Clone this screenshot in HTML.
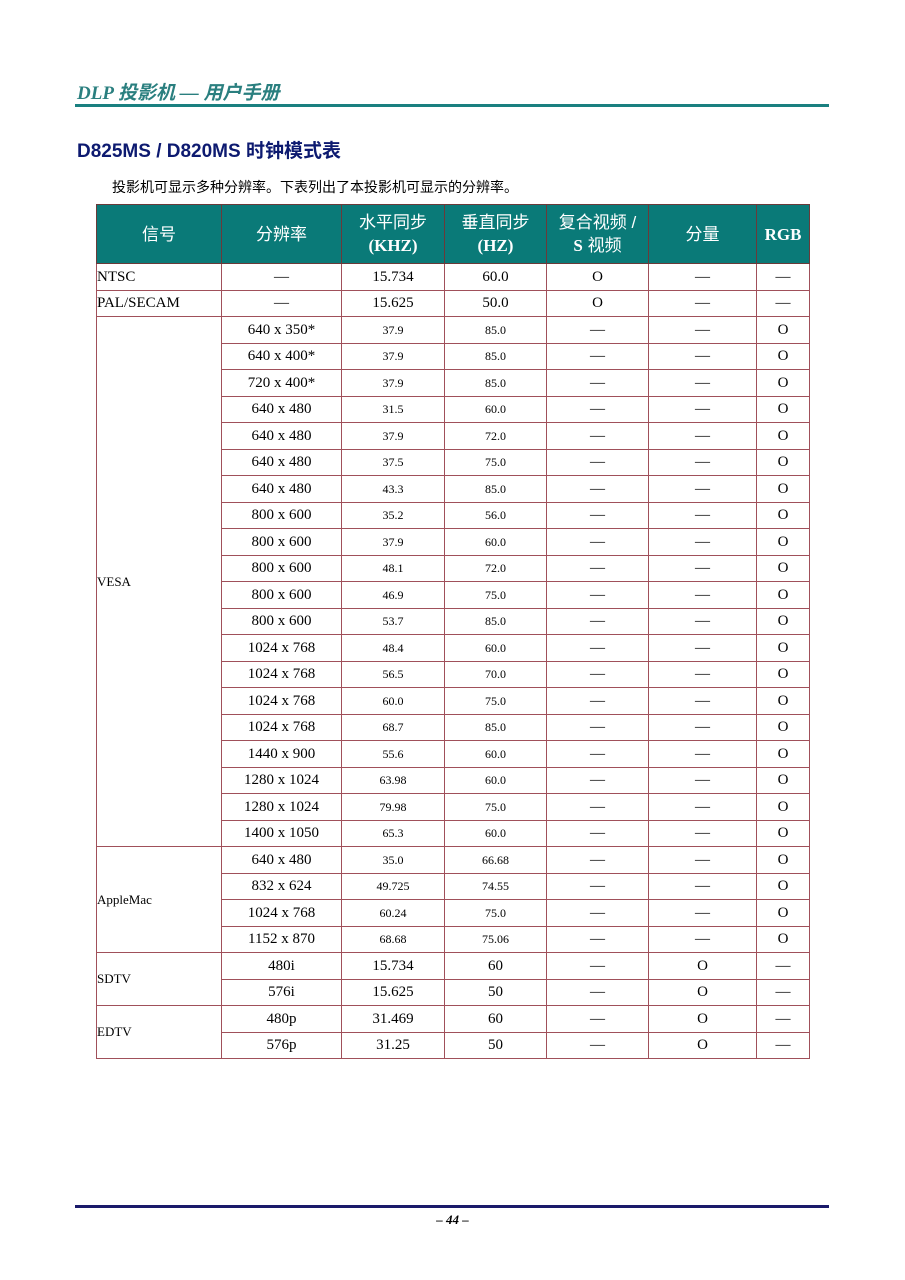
<!DOCTYPE html>
<html><head><meta charset="utf-8"><style>
body{margin:0;width:905px;height:1280px;background:#fff;position:relative;font-family:"Liberation Serif","Noto Serif CJK SC",serif;}
.hdr{position:absolute;left:77px;top:78px;font:italic bold 19px "Liberation Serif","Noto Sans CJK SC",serif;color:#2a7f7f;}
.hl{position:absolute;left:75px;top:104px;width:754px;height:3px;background:#1a8080;}
.title{position:absolute;left:77px;top:136px;font:bold 19px "Liberation Sans","Noto Sans CJK SC",sans-serif;color:#0d1a70;}
.intro{position:absolute;left:112px;top:177px;font:14px "Liberation Sans","Noto Sans CJK SC",sans-serif;color:#000;}
table{position:absolute;left:96px;top:204px;border-collapse:collapse;table-layout:fixed;width:713px;}
td{border:1px solid #a0505a;height:25.5px;padding:0;text-align:center;font-size:15px;line-height:18px;}
th{background:#0a7a78;color:#fff;font-weight:normal;font-size:17px;font-family:"Liberation Sans","Noto Sans CJK SC",sans-serif;border:1px solid #6a3a3a;height:58px;line-height:23px;padding:0;}
th b{font-family:"Liberation Serif",serif;}
td.l{text-align:left;font-size:13px;}
td.s{font-size:12px;}
.bl{position:absolute;left:75px;top:1205px;width:754px;height:3px;background:#1a1a6a;}
.pg{position:absolute;left:0;width:905px;text-align:center;top:1212px;font:italic bold 13px "Liberation Serif",serif;}
</style></head><body>
<div class="hdr">DLP 投影机 — 用户手册</div>
<div class="hl"></div>
<div class="title">D825MS / D820MS 时钟模式表</div>
<div class="intro">投影机可显示多种分辨率。下表列出了本投影机可显示的分辨率。</div>
<table>
<colgroup><col style="width:125px"><col style="width:120px"><col style="width:103px"><col style="width:102px"><col style="width:102px"><col style="width:108px"><col style="width:53px"></colgroup>
<tr><th>信号</th><th>分辨率</th><th>水平同步<br><b>(KHZ)</b></th><th>垂直同步<br><b>(HZ)</b></th><th>复合视频 /<br><b>S</b> 视频</th><th>分量</th><th><b>RGB</b></th></tr>
<tr><td class="l" style="font-size:15px">NTSC</td><td>—</td><td>15.734</td><td>60.0</td><td>O</td><td>—</td><td>—</td></tr>
<tr><td class="l" style="font-size:15px">PAL/SECAM</td><td>—</td><td>15.625</td><td>50.0</td><td>O</td><td>—</td><td>—</td></tr>
<tr><td class="l" rowspan="20">VESA</td><td>640 x 350*</td><td class="s">37.9</td><td class="s">85.0</td><td>—</td><td>—</td><td>O</td></tr>
<tr><td>640 x 400*</td><td class="s">37.9</td><td class="s">85.0</td><td>—</td><td>—</td><td>O</td></tr>
<tr><td>720 x 400*</td><td class="s">37.9</td><td class="s">85.0</td><td>—</td><td>—</td><td>O</td></tr>
<tr><td>640 x 480</td><td class="s">31.5</td><td class="s">60.0</td><td>—</td><td>—</td><td>O</td></tr>
<tr><td>640 x 480</td><td class="s">37.9</td><td class="s">72.0</td><td>—</td><td>—</td><td>O</td></tr>
<tr><td>640 x 480</td><td class="s">37.5</td><td class="s">75.0</td><td>—</td><td>—</td><td>O</td></tr>
<tr><td>640 x 480</td><td class="s">43.3</td><td class="s">85.0</td><td>—</td><td>—</td><td>O</td></tr>
<tr><td>800 x 600</td><td class="s">35.2</td><td class="s">56.0</td><td>—</td><td>—</td><td>O</td></tr>
<tr><td>800 x 600</td><td class="s">37.9</td><td class="s">60.0</td><td>—</td><td>—</td><td>O</td></tr>
<tr><td>800 x 600</td><td class="s">48.1</td><td class="s">72.0</td><td>—</td><td>—</td><td>O</td></tr>
<tr><td>800 x 600</td><td class="s">46.9</td><td class="s">75.0</td><td>—</td><td>—</td><td>O</td></tr>
<tr><td>800 x 600</td><td class="s">53.7</td><td class="s">85.0</td><td>—</td><td>—</td><td>O</td></tr>
<tr><td>1024 x 768</td><td class="s">48.4</td><td class="s">60.0</td><td>—</td><td>—</td><td>O</td></tr>
<tr><td>1024 x 768</td><td class="s">56.5</td><td class="s">70.0</td><td>—</td><td>—</td><td>O</td></tr>
<tr><td>1024 x 768</td><td class="s">60.0</td><td class="s">75.0</td><td>—</td><td>—</td><td>O</td></tr>
<tr><td>1024 x 768</td><td class="s">68.7</td><td class="s">85.0</td><td>—</td><td>—</td><td>O</td></tr>
<tr><td>1440 x 900</td><td class="s">55.6</td><td class="s">60.0</td><td>—</td><td>—</td><td>O</td></tr>
<tr><td>1280 x 1024</td><td class="s">63.98</td><td class="s">60.0</td><td>—</td><td>—</td><td>O</td></tr>
<tr><td>1280 x 1024</td><td class="s">79.98</td><td class="s">75.0</td><td>—</td><td>—</td><td>O</td></tr>
<tr><td>1400 x 1050</td><td class="s">65.3</td><td class="s">60.0</td><td>—</td><td>—</td><td>O</td></tr>
<tr><td class="l" rowspan="4">AppleMac</td><td>640 x 480</td><td class="s">35.0</td><td class="s">66.68</td><td>—</td><td>—</td><td>O</td></tr>
<tr><td>832 x 624</td><td class="s">49.725</td><td class="s">74.55</td><td>—</td><td>—</td><td>O</td></tr>
<tr><td>1024 x 768</td><td class="s">60.24</td><td class="s">75.0</td><td>—</td><td>—</td><td>O</td></tr>
<tr><td>1152 x 870</td><td class="s">68.68</td><td class="s">75.06</td><td>—</td><td>—</td><td>O</td></tr>
<tr><td class="l" rowspan="2">SDTV</td><td>480i</td><td>15.734</td><td>60</td><td>—</td><td>O</td><td>—</td></tr>
<tr><td>576i</td><td>15.625</td><td>50</td><td>—</td><td>O</td><td>—</td></tr>
<tr><td class="l" rowspan="2">EDTV</td><td>480p</td><td>31.469</td><td>60</td><td>—</td><td>O</td><td>—</td></tr>
<tr><td>576p</td><td>31.25</td><td>50</td><td>—</td><td>O</td><td>—</td></tr>
</table>
<div class="bl"></div>
<div class="pg">– 44 –</div>
</body></html>
